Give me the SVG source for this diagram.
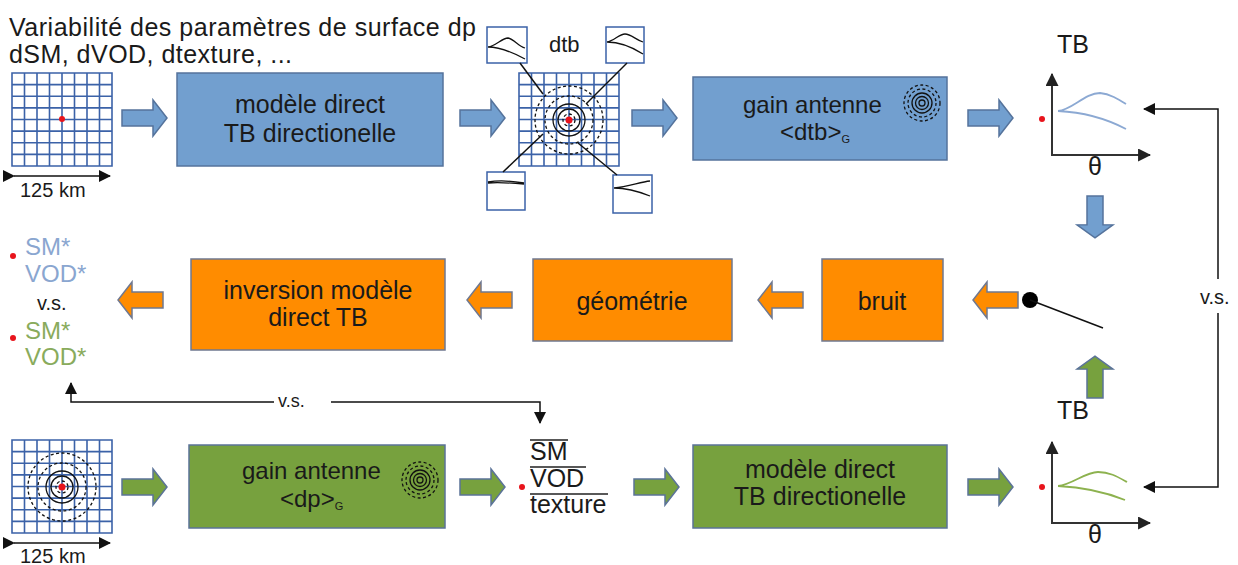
<svg xmlns="http://www.w3.org/2000/svg" xmlns:xlink="http://www.w3.org/1999/xlink" width="1238" height="565" viewBox="0 0 1238 565">
<style>
text{font-family:"Liberation Sans",Arial,sans-serif;fill:#1a1a1a}
.t25{font-size:25px}
.t24{font-size:24px}
.t20{font-size:20px}
.mid{text-anchor:middle}
.blue{fill:#729fcf;stroke:#55739c;stroke-width:1.5}
.orange{fill:#ff8c00;stroke:#6f7890;stroke-width:1.5}
.green{fill:#77a13e;stroke:#5b7398;stroke-width:1.5}
.gl{stroke:#3b62a8;stroke-width:1.6;fill:none}
.mini{fill:#fff;stroke:#3b62a8;stroke-width:1.5}
.curve{fill:none;stroke:#111;stroke-width:1.3}
.con{fill:none;stroke:#111;stroke-width:1.5}
.axis{fill:none;stroke:#333;stroke-width:2}
.ring{fill:none;stroke:#111;stroke-width:1.3}
.dash{stroke-dasharray:3 2.5}
.red{fill:#e8141c}
</style>
<defs>
<path id="arr" d="M0,-8 H31 V-18 L45,0 L31,18 V8 H0 Z"/>
<g id="grid">
<rect x="0" y="0" width="100" height="93" fill="#fff"/>
<path class="gl" d="M0,0H100V93H0Z M12.5,0V93 M25,0V93 M37.5,0V93 M50,0V93 M62.5,0V93 M75,0V93 M87.5,0V93 M0,11.6H100 M0,23.3H100 M0,34.9H100 M0,46.5H100 M0,58.1H100 M0,69.8H100 M0,81.4H100"/>
</g>
<g id="rings">
<circle class="ring dash" r="34"/>
<circle class="ring dash" r="24"/>
<circle class="ring" r="16"/>
<circle class="ring" r="11"/>
<circle class="ring dash" r="6"/>
<circle class="red" r="3.5"/>
</g>
<g id="ant">
<circle class="ring dash" r="18"/>
<circle class="ring dash" r="14"/>
<circle class="ring" r="10"/>
<circle class="ring" r="6.5"/>
<circle class="ring" r="3"/>
</g>
<marker id="ah" viewBox="0 0 12 12" refX="11" refY="6" markerWidth="12" markerHeight="12" markerUnits="userSpaceOnUse" orient="auto">
<path d="M0,0 L12,6 L0,12 Z" fill="#111"/>
</marker>
<marker id="ax" viewBox="0 0 12 12" refX="11" refY="6" markerWidth="13" markerHeight="13" markerUnits="userSpaceOnUse" orient="auto">
<path d="M0,0 L12,6 L0,12 Z" fill="#222"/>
</marker>
</defs>

<rect width="1238" height="565" fill="#fff"/>

<g id="title">
<text class="t25" x="9" y="36" textLength="467">Variabilité des paramètres de surface dp</text>
<text class="t25" x="9" y="63" textLength="283">dSM, dVOD, dtexture, ...</text>
</g>

<g id="grid-top">
<use xlink:href="#grid" x="12" y="73"/>
<circle class="red" cx="62" cy="119" r="3"/>
<line class="con" x1="14" y1="176" x2="110" y2="176" marker-start="url(#ah)" marker-end="url(#ah)"/>
<text class="t20" x="20" y="197">125 km</text>
</g>

<g id="box-direct-top">
<rect class="blue" x="177" y="73" width="266" height="93"/>
<text class="t25 mid" x="310" y="113">modèle direct</text>
<text class="t25 mid" x="310" y="142">TB directionelle</text>
</g>

<g id="dtb">
<text x="549" y="52" style="font-size:22px">dtb</text>
<use xlink:href="#grid" x="519" y="73"/>
<use xlink:href="#rings" x="569" y="120"/>
<rect class="mini" x="487" y="27" width="40" height="36"/>
<path class="curve" d="M488,47 C496,46 502,38 508,38 C514,39 518,46 525,48 M488,47 C500,47 512,52 525,59"/>
<rect class="mini" x="606" y="27" width="38" height="36"/>
<path class="curve" d="M607,42 C614,41 619,34 625,34 C631,34 636,40 643,42 M607,42 C620,42 632,47 643,54"/>
<rect class="mini" x="487" y="172" width="38" height="38"/>
<path class="curve" d="M488,182 C500,180 512,181 524,183 M488,183 C500,182 512,183 524,184"/>
<rect class="mini" x="613" y="175" width="39" height="38"/>
<path class="curve" d="M614,188 C628,187 640,182 650,181 M614,188 C628,188 640,192 650,196"/>
</g>

<g id="box-gain-top">
<rect class="blue" x="693" y="77" width="254" height="83"/>
<text class="t24" x="743" y="113">gain antenne</text>
<text class="t24" x="780" y="140">&lt;dtb&gt;<tspan style="font-size:11px" dy="3">G</tspan></text>
<use xlink:href="#ant" x="922" y="103"/>
</g>

<g id="chart-top">
<text class="t25" x="1057" y="53">TB</text>
<line class="axis" x1="1052" y1="156" x2="1052" y2="74" marker-end="url(#ax)"/>
<line class="axis" x1="1051" y1="155" x2="1150" y2="155" marker-end="url(#ax)"/>
<circle class="red" cx="1042" cy="119" r="3"/>
<path d="M1058,111 C1072,110 1085,93 1100,93 C1110,94 1118,99 1126,104 M1058,111 C1080,112 1105,118 1126,129" fill="none" stroke="#8ca9d3" stroke-width="1.8"/>
<text class="t25 mid" x="1095" y="175">θ</text>
</g>

<g id="switch">
<circle cx="1030" cy="300" r="8" fill="#000"/>
<line class="con" x1="1030" y1="300" x2="1103" y2="328"/>
</g>

<g id="box-bruit">
<rect class="orange" x="822" y="259" width="121" height="82"/>
<text class="t25 mid" x="882" y="310">bruit</text>
</g>
<g id="box-geom">
<rect class="orange" x="533" y="259" width="199" height="82"/>
<text class="t25 mid" x="632" y="310">géométrie</text>
</g>
<g id="box-inversion">
<rect class="orange" x="191" y="259" width="254" height="91"/>
<text class="t25 mid" x="318" y="299">inversion modèle</text>
<text class="t25 mid" x="318" y="326">direct TB</text>
</g>

<g id="results">
<circle class="red" cx="13" cy="256" r="3"/>
<text x="25" y="255" style="font-size:24px;fill:#8aa6d0">SM*</text>
<text x="25" y="282" style="font-size:24px;fill:#8aa6d0">VOD*</text>
<text class="t20" x="37" y="310">v.s.</text>
<circle class="red" cx="13" cy="338" r="3"/>
<text x="25" y="339" style="font-size:24px;fill:#89ab5c">SM*</text>
<text x="25" y="365" style="font-size:24px;fill:#89ab5c">VOD*</text>
</g>

<g id="grid-bottom">
<use xlink:href="#grid" x="12" y="440"/>
<use xlink:href="#rings" x="62" y="487"/>
<line class="con" x1="14" y1="543" x2="110" y2="543" marker-start="url(#ah)" marker-end="url(#ah)"/>
<text class="t20" x="20" y="563">125 km</text>
</g>

<g id="box-gain-bottom">
<rect class="green" x="189" y="445" width="256" height="83"/>
<text class="t24" x="242" y="479">gain antenne</text>
<text class="t24" x="280" y="507">&lt;dp&gt;<tspan style="font-size:11px" dy="3">G</tspan></text>
<use xlink:href="#ant" x="420" y="480"/>
</g>

<g id="mean-params">
<circle class="red" cx="522" cy="487" r="3"/>
<text class="t25" x="530" y="460">SM</text>
<text class="t25" x="530" y="487">VOD</text>
<text class="t25" x="530" y="513">texture</text>
<path d="M530,440H568 M530,467H586 M530,494H608" stroke="#222" stroke-width="1.5" fill="none"/>
</g>

<g id="box-direct-bottom">
<rect class="green" x="693" y="445" width="254" height="83"/>
<text class="t25 mid" x="820" y="478">modèle direct</text>
<text class="t25 mid" x="820" y="505">TB directionelle</text>
</g>

<g id="chart-bottom">
<text class="t25" x="1057" y="419">TB</text>
<line class="axis" x1="1052" y1="524" x2="1052" y2="442" marker-end="url(#ax)"/>
<line class="axis" x1="1051" y1="523" x2="1150" y2="523" marker-end="url(#ax)"/>
<circle class="red" cx="1042" cy="487" r="3"/>
<path d="M1058,486 C1072,485 1085,472 1098,472 C1110,472 1118,477 1127,482 M1058,486 C1080,487 1105,492 1125,500" fill="none" stroke="#8db24f" stroke-width="1.8"/>
<text class="t25 mid" x="1095" y="543">θ</text>
</g>

<g id="connectors">
<use xlink:href="#arr" class="blue" transform="translate(122,118)"/>
<use xlink:href="#arr" class="blue" transform="translate(460,118)"/>
<use xlink:href="#arr" class="blue" transform="translate(632,118)"/>
<use xlink:href="#arr" class="blue" transform="translate(968,118)"/>
<use xlink:href="#arr" class="blue" transform="translate(1095,196) rotate(90) scale(0.93,1)"/>
<use xlink:href="#arr" class="green" transform="translate(1095,398) rotate(-90) scale(0.93,1)"/>
<use xlink:href="#arr" class="orange" transform="translate(1018,300) rotate(180)"/>
<use xlink:href="#arr" class="orange" transform="translate(803,300) rotate(180)"/>
<use xlink:href="#arr" class="orange" transform="translate(512,300) rotate(180)"/>
<use xlink:href="#arr" class="orange" transform="translate(163,300) rotate(180)"/>
<use xlink:href="#arr" class="green" transform="translate(122,487)"/>
<use xlink:href="#arr" class="green" transform="translate(460,487)"/>
<use xlink:href="#arr" class="green" transform="translate(634,487)"/>
<use xlink:href="#arr" class="green" transform="translate(968,487)"/>
<line class="con" x1="520" y1="63" x2="543" y2="94"/>
<line class="con" x1="627" y1="63" x2="586" y2="104"/>
<line class="con" x1="503" y1="172" x2="543" y2="134"/>
<line class="con" x1="617" y1="175" x2="578" y2="143"/>
<path class="con" d="M1218,279 V109 H1144" marker-end="url(#ah)"/>
<path class="con" d="M1218,313 V487 H1144" marker-end="url(#ah)"/>
<text class="t20" x="1200" y="304">v.s.</text>
<path class="con" d="M274,402 H71 V383" marker-end="url(#ah)"/>
<path class="con" d="M331,402 H540 V423" marker-end="url(#ah)"/>
<text x="278" y="407" style="font-size:18px">v.s.</text>
</g>
</svg>
